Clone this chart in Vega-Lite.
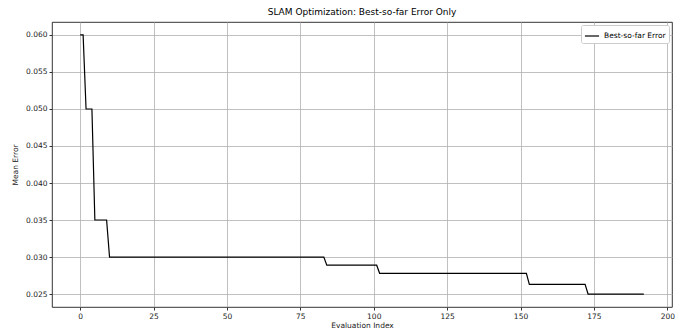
{
  "$schema": "https://vega.github.io/schema/vega-lite/v6.json",
  "width": 620,
  "height": 285,
  "autosize": {"type": "none"},
  "padding": {"left": 52, "top": 22, "right": 22, "bottom": 23},
  "background": "white",
  "title": {"text": "SLAM Optimization: Best-so-far Error Only", "font": "DejaVu Sans", "fontSize": 9, "fontWeight": "normal", "color": "black", "offset": 5},
  "config": {
    "view": {"stroke": "black", "strokeWidth": 0.8},
    "axis": {
      "labelFont": "DejaVu Sans", "labelFontSize": 7.5, "labelColor": "#222",
      "titleFont": "DejaVu Sans", "titleFontSize": 7.5, "titleFontWeight": "normal", "titleColor": "#222",
      "domain": false, "tickColor": "black", "tickSize": 3, "tickWidth": 0.8,
      "gridColor": "#b0b0b0", "gridWidth": 0.8, "labelPadding": 2
    },
    "legend": {"labelFont": "DejaVu Sans", "labelFontSize": 7.5, "labelColor": "black"}
  },
  "data": {"values": [
    {"index": 0, "error": 0.060},
    {"index": 1, "error": 0.060},
    {"index": 2, "error": 0.050},
    {"index": 4, "error": 0.050},
    {"index": 5, "error": 0.035},
    {"index": 9, "error": 0.035},
    {"index": 10, "error": 0.030},
    {"index": 83, "error": 0.030},
    {"index": 84, "error": 0.0289},
    {"index": 101, "error": 0.0289},
    {"index": 102, "error": 0.0278},
    {"index": 152, "error": 0.0278},
    {"index": 153, "error": 0.0263},
    {"index": 172, "error": 0.0263},
    {"index": 173, "error": 0.0250},
    {"index": 192, "error": 0.0250}
  ]},
  "mark": {"type": "line", "strokeWidth": 1.2, "clip": true},
  "encoding": {
    "x": {"field": "index", "type": "quantitative", "title": "Evaluation Index",
      "scale": {"domain": [-9.6, 201.6], "nice": false, "zero": false},
      "axis": {"values": [0, 25, 50, 75, 100, 125, 150, 175, 200], "titlePadding": 2}},
    "y": {"field": "error", "type": "quantitative", "title": "Mean Error",
      "scale": {"domain": [0.02325, 0.06175], "nice": false, "zero": false},
      "axis": {"values": [0.025, 0.03, 0.035, 0.04, 0.045, 0.05, 0.055, 0.06], "format": ".3f", "titlePadding": 6}},
    "color": {"datum": "Best-so-far Error", "type": "nominal", "scale": {"range": ["black"]},
      "legend": {"title": null, "orient": "top-right", "offset": 3, "symbolType": "stroke", "symbolStrokeWidth": 1.2, "symbolSize": 200,
        "fillColor": "white", "strokeColor": "#cccccc", "padding": 3, "cornerRadius": 2}}
  }
}
